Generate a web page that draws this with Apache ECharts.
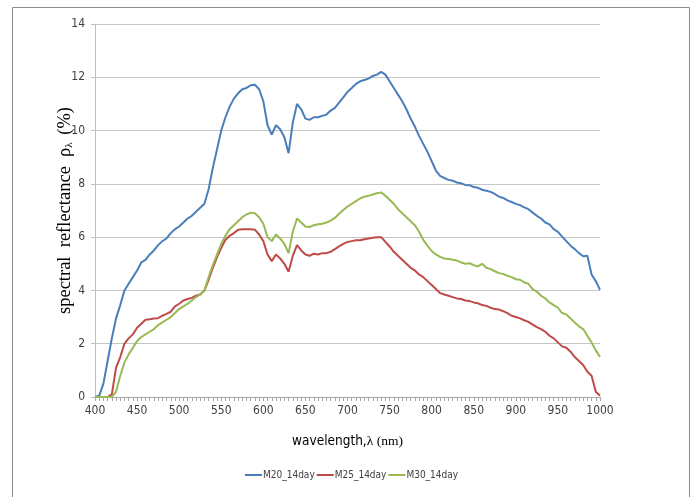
<!DOCTYPE html>
<html>
<head>
<meta charset="utf-8">
<script src="https://cdn.jsdelivr.net/npm/echarts@6/dist/echarts.min.js"></script>
<style>
  html, body { margin: 0; padding: 0; background: #fff; }
  #chart { width: 692px; height: 497px; }
</style>
</head>
<body>
<div id="chart"></div>
<script>
// wavelength (nm), 5 nm steps
const wavelengths = [
  400, 405, 410, 415, 420, 425, 430, 435, 440, 445,
  450, 455, 460, 465, 470, 475, 480, 485, 490, 495,
  500, 505, 510, 515, 520, 525, 530, 535, 540, 545,
  550, 555, 560, 565, 570, 575, 580, 585, 590, 595,
  600, 605, 610, 615, 620, 625, 630, 635, 640, 645,
  650, 655, 660, 665, 670, 675, 680, 685, 690, 695,
  700, 705, 710, 715, 720, 725, 730, 735, 740, 745,
  750, 755, 760, 765, 770, 775, 780, 785, 790, 795,
  800, 805, 810, 815, 820, 825, 830, 835, 840, 845,
  850, 855, 860, 865, 870, 875, 880, 885, 890, 895,
  900, 905, 910, 915, 920, 925, 930, 935, 940, 945,
  950, 955, 960, 965, 970, 975, 980, 985, 990, 995,
  1000
];

const m20 = [
  0, 0.05, 0.5, 1.35, 2.2, 2.95, 3.45, 4.0, 4.25, 4.5,
  4.75, 5.05, 5.15, 5.35, 5.5, 5.7, 5.85, 5.95, 6.15, 6.3,
  6.4, 6.55, 6.7, 6.8, 6.95, 7.1, 7.25, 7.8, 8.6, 9.3,
  10.0, 10.5, 10.9, 11.2, 11.4, 11.55, 11.6, 11.7, 11.72, 11.55,
  11.1, 10.2, 9.85, 10.2, 10.05, 9.75, 9.15, 10.3, 11.0, 10.8,
  10.45, 10.4, 10.5, 10.5, 10.55, 10.6, 10.75, 10.85, 11.05, 11.25,
  11.45, 11.6, 11.75, 11.85, 11.9, 11.95, 12.05, 12.1, 12.2, 12.1,
  11.85, 11.6, 11.35, 11.1, 10.8, 10.45, 10.15, 9.8, 9.5, 9.2,
  8.85, 8.5, 8.3, 8.22, 8.15, 8.12, 8.05, 8.02, 7.96, 7.95,
  7.88, 7.85, 7.78, 7.74, 7.7, 7.62, 7.52, 7.47, 7.38, 7.32,
  7.25, 7.2, 7.12, 7.05, 6.92, 6.8, 6.7, 6.55, 6.48, 6.3,
  6.2, 6.02, 5.85, 5.68, 5.55, 5.4, 5.28, 5.3, 4.6, 4.35,
  4.02
];

const m25 = [
  0, 0, 0, 0, 0.1, 1.1, 1.5, 2.0, 2.2, 2.35,
  2.6, 2.75, 2.9, 2.92, 2.95, 2.96, 3.05, 3.12, 3.2, 3.4,
  3.5, 3.62, 3.68, 3.72, 3.8, 3.85, 4.0, 4.4, 4.85, 5.25,
  5.6, 5.9, 6.05, 6.15, 6.28, 6.3, 6.3, 6.3, 6.28, 6.1,
  5.85, 5.35, 5.1, 5.35, 5.2, 5.0, 4.7, 5.3, 5.7, 5.5,
  5.35, 5.3, 5.38, 5.35, 5.4, 5.4, 5.45, 5.55, 5.65, 5.75,
  5.82, 5.85, 5.88, 5.88, 5.92, 5.95, 5.98, 6.0, 6.0, 5.82,
  5.65, 5.45, 5.3, 5.15, 5.0, 4.85, 4.75, 4.6, 4.5, 4.35,
  4.2, 4.05, 3.9, 3.85, 3.8, 3.75, 3.7, 3.68, 3.62, 3.6,
  3.55, 3.52, 3.45, 3.42, 3.35, 3.3, 3.28, 3.22, 3.15, 3.05,
  3.0, 2.95, 2.88, 2.82, 2.72, 2.62, 2.55, 2.45, 2.3, 2.2,
  2.05, 1.9, 1.85, 1.7, 1.5, 1.35, 1.2, 0.95, 0.8, 0.2,
  0.05
];

const m30 = [
  0, 0, 0, 0, 0, 0.2, 0.8, 1.3, 1.6, 1.85,
  2.1, 2.25, 2.35, 2.45, 2.55, 2.7, 2.8, 2.9, 3.0, 3.15,
  3.3, 3.4, 3.5, 3.62, 3.75, 3.85, 4.0, 4.5, 4.95, 5.35,
  5.75, 6.05, 6.3, 6.45, 6.6, 6.75, 6.85, 6.92, 6.9, 6.75,
  6.5, 6.0, 5.85, 6.1, 5.95, 5.75, 5.4, 6.2, 6.7, 6.55,
  6.4, 6.38, 6.45, 6.48, 6.5, 6.55, 6.62, 6.72, 6.88, 7.02,
  7.15, 7.25, 7.35, 7.45, 7.52, 7.55, 7.6, 7.65, 7.68, 7.55,
  7.4, 7.25, 7.05, 6.9, 6.75, 6.6, 6.45, 6.2, 5.9, 5.68,
  5.48, 5.35, 5.26, 5.2, 5.18, 5.15, 5.12, 5.05, 5.0, 5.02,
  4.95, 4.9, 5.0, 4.85, 4.8, 4.72, 4.65, 4.62, 4.55, 4.5,
  4.42, 4.4, 4.3, 4.25, 4.05, 3.95, 3.8, 3.7, 3.55, 3.45,
  3.35, 3.15, 3.1, 2.95, 2.8, 2.65, 2.55, 2.3, 2.05, 1.75,
  1.5
];

const seriesNames = ['M20_14day', 'M25_14day', 'M30_14day'];
const seriesColors = ['#4a7ebb', '#be4b48', '#98b954'];
const seriesValues = [m20, m25, m30];

const tickFont = "'Liberation Sans Narrow', 'DejaVu Sans Condensed', Arial, sans-serif";
const serifFont = "'Liberation Serif', 'DejaVu Serif', serif";

const chart = echarts.init(document.getElementById('chart'));

const series = seriesValues.map((vals, i) => ({
  name: seriesNames[i],
  type: 'line',
  data: wavelengths.map((w, j) => [w, vals[j]]),
  showSymbol: false,
  symbol: 'none',
  smooth: false,
  lineStyle: { color: seriesColors[i], width: 2 },
  itemStyle: { color: seriesColors[i] },
  animation: false
}));

const option = {
  animation: false,
  backgroundColor: '#fff',
  graphic: [{
    type: 'rect',
    shape: { x: 12.5, y: 7.5, width: 677, height: 500 },
    style: { fill: 'none', stroke: '#8c8c8c', lineWidth: 1 },
    silent: true
  }],
  grid: {
    left: 95,
    right: 92,
    top: 24,
    bottom: 100,
    containLabel: false
  },
  legend: {
    bottom: 12,
    left: 240,
    icon: 'rect',
    itemWidth: 17,
    itemHeight: 2,
    itemGap: 2,
    textStyle: { fontFamily: tickFont, fontSize: 10, color: '#404040', padding: [0, 0, 0, -4] },
    data: seriesNames
  },
  xAxis: {
    type: 'value',
    min: 400,
    max: 1000,
    interval: 50,
    name: '{a|wavelength,}{b|λ (nm)}',
    nameLocation: 'middle',
    nameGap: 37,
    nameMoveOverlap: false,
    nameTextStyle: {
      rich: {
        a: { fontFamily: tickFont, fontSize: 13.5, color: '#000' },
        b: { fontFamily: serifFont, fontSize: 13.5, color: '#000' }
      }
    },
    axisLine: { show: true, lineStyle: { color: '#a6a6a6', width: 1 } },
    axisTick: { show: true, length: 4, lineStyle: { color: '#a6a6a6' } },
    minorTick: { show: true, splitNumber: 10, length: 4, lineStyle: { color: '#a6a6a6' } },
    axisLabel: { fontFamily: tickFont, fontSize: 12, color: '#404040', margin: 8, formatter: v => String(v) },
    splitLine: { show: false }
  },
  yAxis: {
    type: 'value',
    min: 0,
    max: 14,
    interval: 2,
    name: '{t|spectral  reflectance  ρ}{s|λ}{t| (%)}',
    nameLocation: 'middle',
    nameGap: 20,
    nameRotate: 90,
    nameMoveOverlap: false,
    nameTextStyle: {
      rich: {
        t: { fontFamily: serifFont, fontSize: 18.5, color: '#000' },
        s: { fontFamily: serifFont, fontSize: 11, color: '#000', verticalAlign: 'bottom', padding: [7, 3, 0, 0] }
      }
    },
    axisLine: { show: true, lineStyle: { color: '#bfbfbf', width: 1 } },
    axisTick: { show: true, length: 4, lineStyle: { color: '#bfbfbf' } },
    axisLabel: { fontFamily: tickFont, fontSize: 12, color: '#404040', margin: 10 },
    splitLine: { show: true, lineStyle: { color: '#c4c4c4', width: 1 } }
  },
  series
};

chart.setOption(option);
</script>
</body>
</html>
